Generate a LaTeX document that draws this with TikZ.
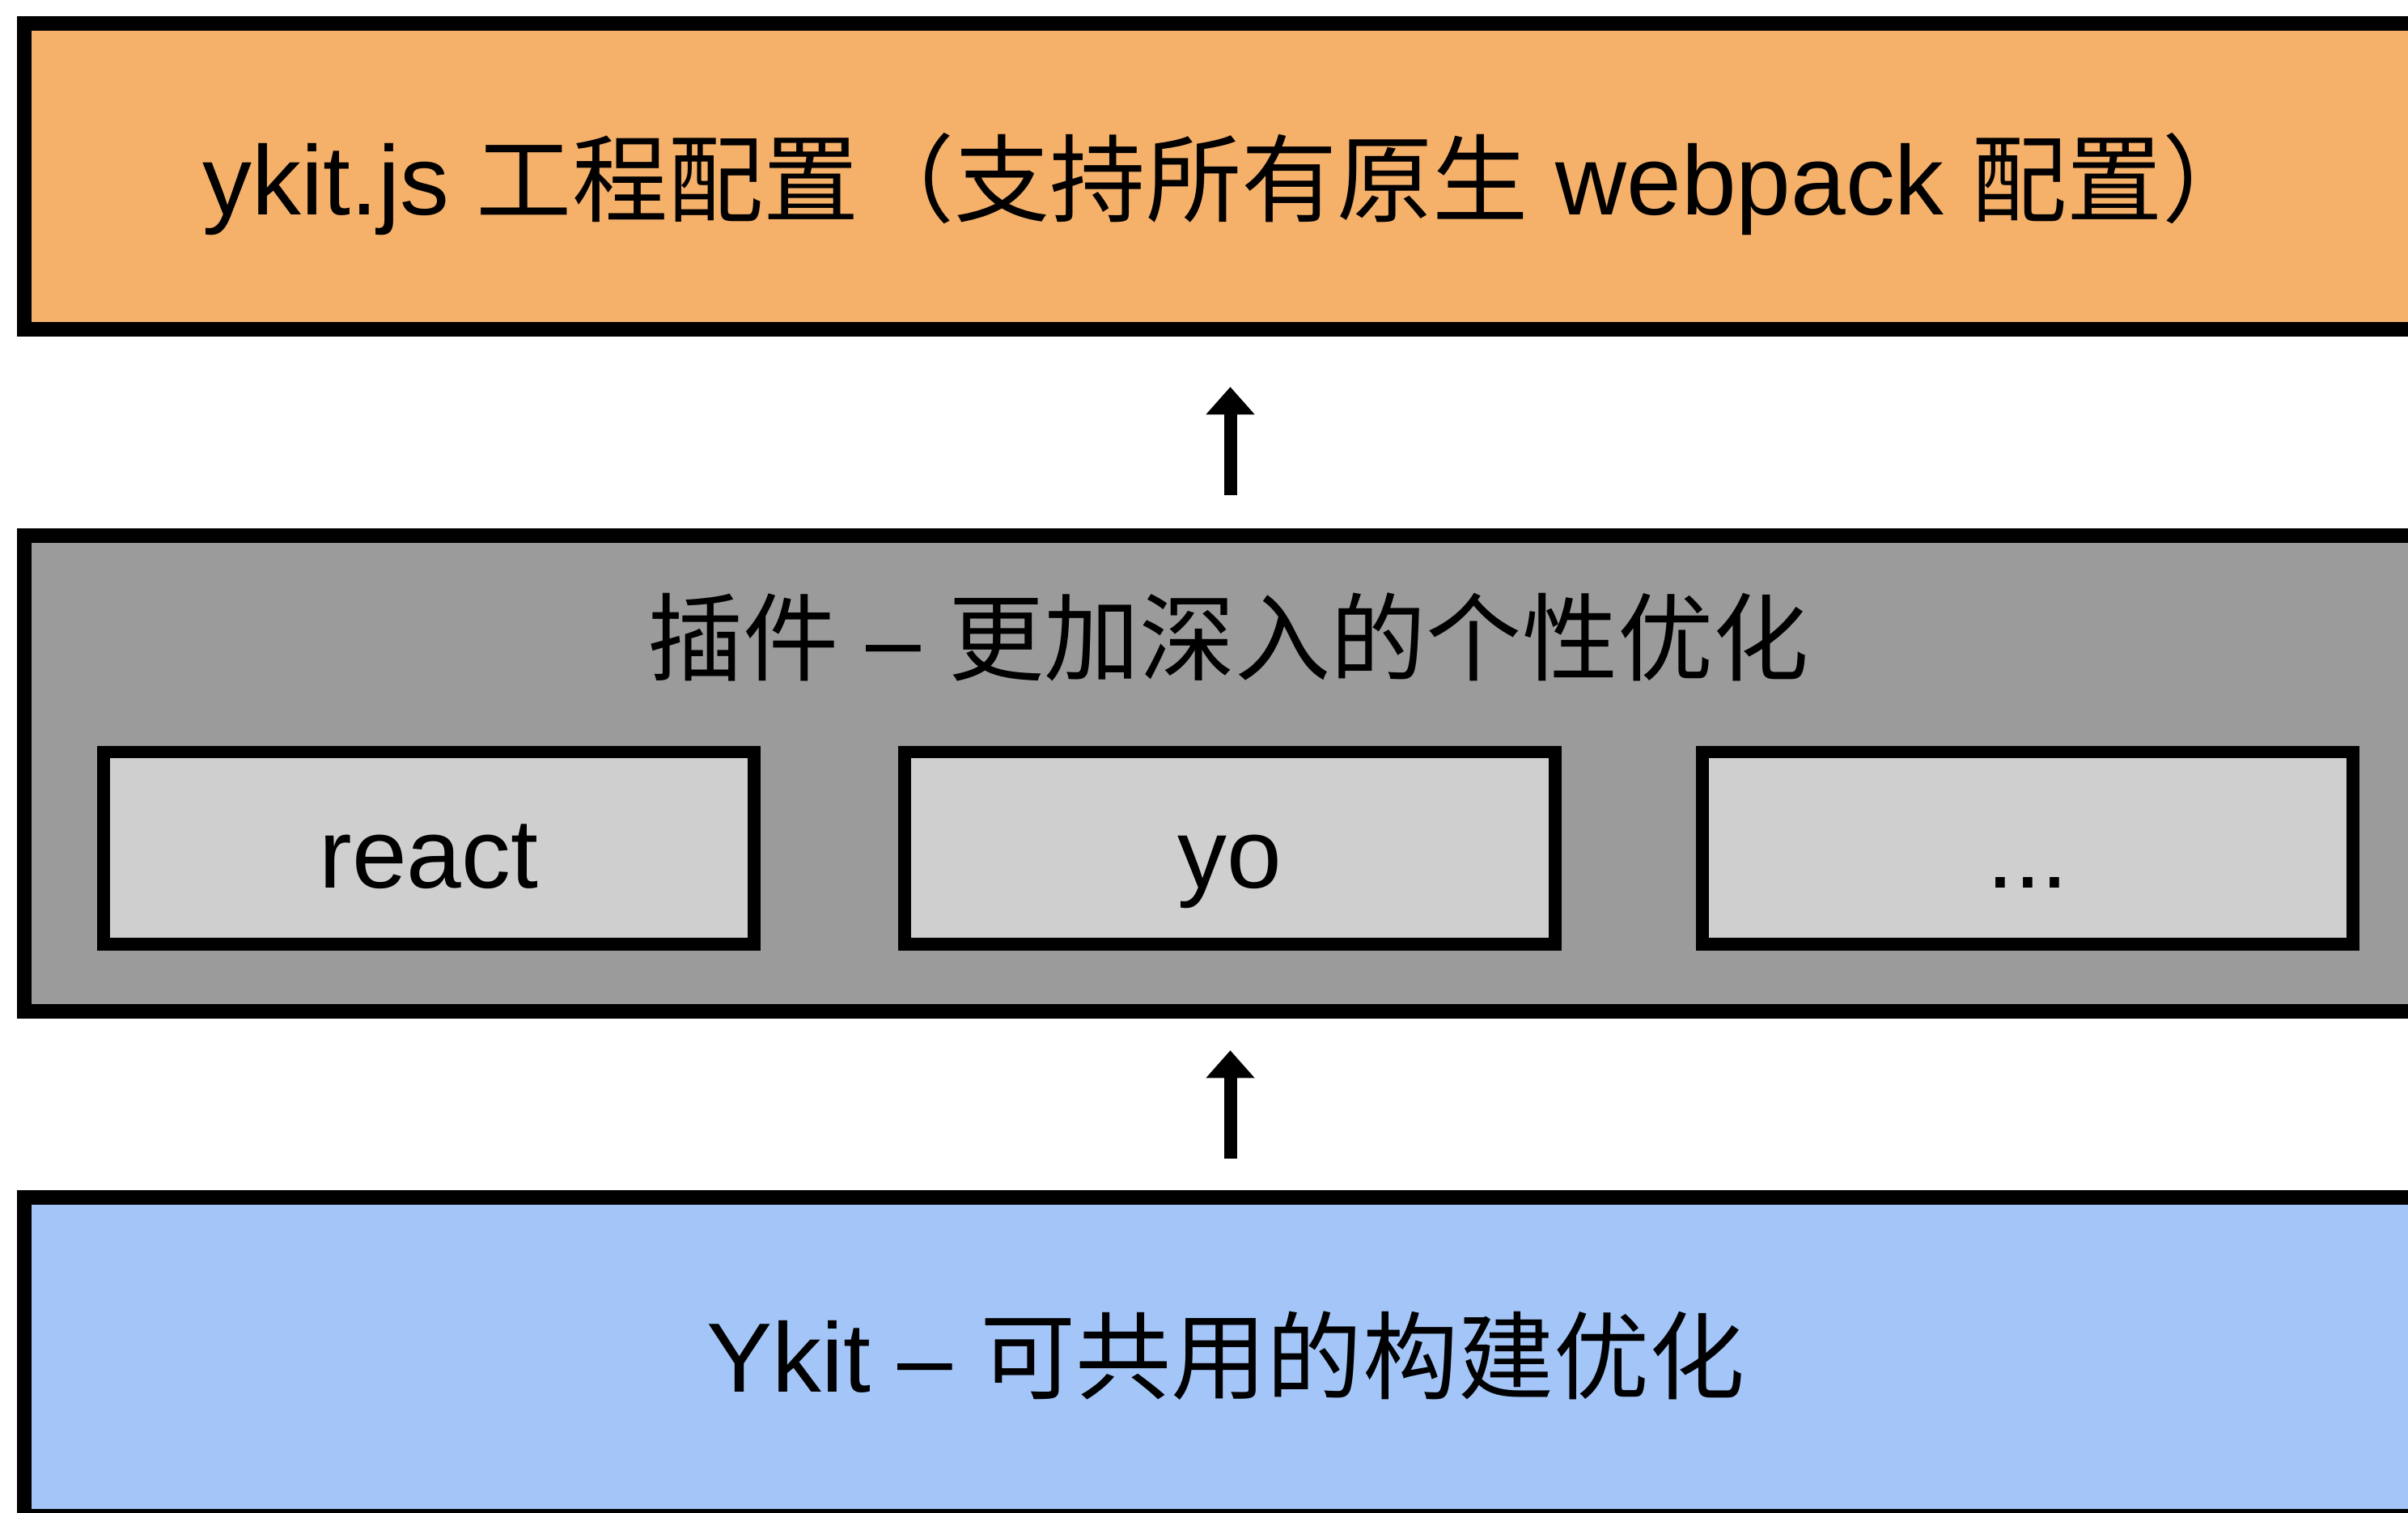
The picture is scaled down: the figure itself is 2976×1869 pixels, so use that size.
\documentclass[tikz,border=0pt]{standalone}
\usepackage{fontspec}
\setmainfont[Scale=1.03]{Liberation Sans}
\newfontfamily\cjk{Noto Sans CJK SC}
\usetikzlibrary{arrows.meta}
\definecolor{orangefill}{HTML}{F5B06A}
\definecolor{midgray}{HTML}{9B9B9B}
\definecolor{plugfill}{HTML}{CFCFCF}
\definecolor{bluefill}{HTML}{A3C5F7}
\begin{document}
\begin{tikzpicture}[x=0.01cm,y=-0.01cm,
  layer/.style={draw=black, line width=5pt, outer sep=0pt, inner sep=0pt, rectangle, minimum width=29.79cm},
  plug/.style={draw=black, line width=4.5pt, fill=plugfill, outer sep=0pt, inner sep=0pt, rectangle, minimum width=8.04cm, minimum height=2.37cm},
  txt/.style={inner sep=0pt, anchor=base, font=\fontsize{33.6pt}{40pt}\selectfont},
  uparrow/.style={line width=4.55pt, -{Triangle[width=16.5pt,length=9.7pt]}}
]
\useasboundingbox (0,0) rectangle (2976,1869);
\fill[white] (0,0) rectangle (2976,1869);

% layers
\node[layer, fill=orangefill, minimum height=3.78cm] (top) at (1520.5,218) {};
\node[layer, fill=midgray, minimum height=5.88cm] (mid) at (1520.5,956) {};
\node[layer, fill=bluefill, minimum height=3.94cm] (bot) at (1520.5,1677) {};

% plugin boxes
\node[plug] (react) at (530,1048) {};
\node[plug] (yo) at (1520,1048) {};
\node[plug] (more) at (2506,1048) {};

% texts
\node[txt] (toptxt) at (1521,265) {ykit.js {\cjk 工程配置（支持所有原生} webpack {\cjk 配置）}};
\node[txt] (midtxt) at (1518,832) {{\cjk 插件} – {\cjk 更加深入的个性优化}};
\node[txt] (bottxt) at (1515,1720) {Ykit – {\cjk 可共用的构建优化}};
\node[txt] (reacttxt) at (530,1097) {react};
\node[txt] (yotxt) at (1520,1097) {yo};
\node[txt] (moretxt) at (2506,1097) {...};

% arrows
\draw[uparrow, shorten <=0.5cm, shorten >=0.71cm] (mid.north) -- (top.south);
\draw[uparrow, shorten <=0.48cm, shorten >=0.48cm] (bot.north) -- (mid.south);
\end{tikzpicture}
\end{document}
